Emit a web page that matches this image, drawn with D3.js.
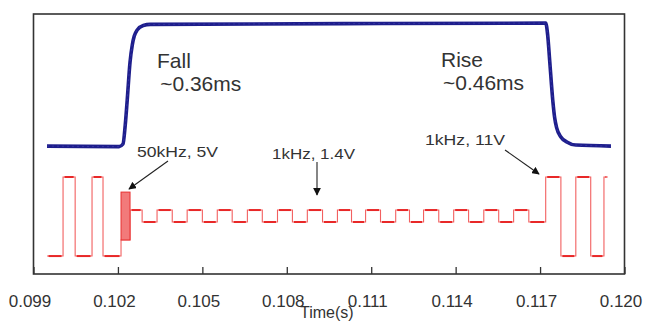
<!DOCTYPE html>
<html>
<head>
<meta charset="utf-8">
<script src="https://cdn.jsdelivr.net/npm/d3@7"></script>
<style>
  body { margin: 0; background: #fff; }
  text { font-family: "Liberation Sans", Arial, sans-serif; fill: #333; }
</style>
</head>
<body>
<svg id="chart" width="645" height="321"></svg>
<script>
// axis ticks (time in s)
var xTicks = [0.099, 0.102, 0.105, 0.108, 0.111, 0.114, 0.117, 0.120];

// optical response (blue), arbitrary units
var blueTime = [0.09948, 0.10204, 0.10218, 0.10226, 0.10233, 0.10243, 0.10251, 0.10258, 0.10268, 0.10290, 0.10315,
                0.11000, 0.11720, 0.11727, 0.11734, 0.11745, 0.11752, 0.11759, 0.11774, 0.11795, 0.11827, 0.11952];
var blueSignal = [49.2, 49.0, 50.0, 57.3, 66.9, 81.5, 88.1, 91.5, 93.8, 95.6, 96.0,
                  96.3, 96.5, 91.9, 82.3, 66.9, 60.0, 56.2, 52.7, 50.8, 49.6, 49.2];

// driving signal (red), level held from each time until the next
var redTime = [0.09948, 0.10005, 0.10048, 0.10108, 0.10147, 0.10211, 0.10243,
               0.10286, 0.10339, 0.10393, 0.10446, 0.10500, 0.10553, 0.10606, 0.10660,
               0.10713, 0.10767, 0.10820, 0.10873, 0.10927, 0.10980, 0.11030, 0.11080,
               0.11133, 0.11187, 0.11236, 0.11286, 0.11340, 0.11393, 0.11446, 0.11500,
               0.11553, 0.11606, 0.11660, 0.11720, 0.11774, 0.11827, 0.11880, 0.11927, 0.11941];
var redLevel = [6.9, 37.3, 6.9, 37.3, 6.9, 13.1, 24.6,
                20.0, 24.6, 20.0, 24.6, 20.0, 24.6, 20.0, 24.6,
                20.0, 24.6, 20.0, 24.6, 20.0, 24.6, 20.0, 24.6,
                20.0, 24.6, 20.0, 24.6, 20.0, 24.6, 20.0, 24.6,
                20.0, 24.6, 20.0, 37.3, 6.9, 37.3, 6.9, 37.3, 37.3];

// 50kHz burst envelope
var burstTime = [0.10211, 0.10243];
var burstLevel = [13.1, 31.5];

var svg = d3.select("#chart");
var plotLeft = 33.5, plotRight = 624.5, plotTop = 14, plotBottom = 274;

var x = d3.scaleLinear().domain([0.099, 0.120]).range([plotLeft, plotRight]);
var y = d3.scaleLinear().domain([0, 100]).range([plotBottom, plotTop]);

// frame
svg.append("rect")
    .attr("x", plotLeft).attr("y", plotTop)
    .attr("width", plotRight - plotLeft).attr("height", plotBottom - plotTop)
    .attr("fill", "none").attr("stroke", "#333").attr("stroke-width", 1.6);

// inner ticks + labels
var xAxis = d3.axisBottom(x).tickValues(xTicks).tickFormat(d3.format(".3f")).tickSizeInner(-7).tickSizeOuter(0);
var ax = svg.append("g").attr("transform", "translate(0," + plotBottom + ")").call(xAxis);
ax.select(".domain").remove();
ax.selectAll(".tick line").attr("stroke", "#333").attr("stroke-width", 1.3);
ax.selectAll(".tick text")
    .attr("y", 33).attr("dy", 0).attr("dx", -4)
    .style("font-family", "Liberation Sans, Arial, sans-serif")
    .style("font-size", "17px").attr("fill", "#333");

svg.append("text").attr("x", 300).attr("y", 318)
    .style("font-size", "16px").text("Time(s)");

// red trace
var redData = redTime.map(function(t, i) { return [t, redLevel[i]]; });
var stepLine = d3.line().x(d => x(d[0])).y(d => y(d[1])).curve(d3.curveStepAfter);
svg.append("path").datum(redData)
    .attr("d", stepLine)
    .attr("fill", "none").attr("stroke", "#f26060").attr("stroke-width", 1.1);

// thicker plateaus
var plateaus = redData.slice(0, -1).map(function(d, i) { return [d[0], redData[i + 1][0], d[1]]; })
    .filter(function(p) { return p[0] !== burstTime[0]; });
svg.append("g").selectAll("line").data(plateaus).enter().append("line")
    .attr("x1", d => x(d[0]) + 1.5).attr("x2", d => x(d[1]) - 1.5)
    .attr("y1", d => y(d[2])).attr("y2", d => y(d[2]))
    .attr("stroke", "#e82828").attr("stroke-width", 2);

// burst block
svg.append("rect")
    .attr("x", x(burstTime[0])).attr("y", y(burstLevel[1]))
    .attr("width", x(burstTime[1]) - x(burstTime[0]))
    .attr("height", y(burstLevel[0]) - y(burstLevel[1]))
    .attr("fill", "#f27a7a").attr("stroke", "#e83030").attr("stroke-width", 1);

// blue trace
var blueData = blueTime.map(function(t, i) { return [t, blueSignal[i]]; });
var line = d3.line().x(d => x(d[0])).y(d => y(d[1])).curve(d3.curveMonotoneX);
svg.append("path").datum(blueData)
    .attr("d", line)
    .attr("fill", "none").attr("stroke", "#1e1e8c").attr("stroke-width", 3.6)
    .attr("stroke-linejoin", "round");
svg.append("path").datum(blueData)
    .attr("d", line)
    .attr("fill", "none").attr("stroke", "#4040b0").attr("stroke-width", 1)
    .attr("stroke-dasharray", "2,3").attr("opacity", 0.6);

// rise / fall labels
function label(t, v, s) {
    svg.append("text").attr("x", x(t)).attr("y", y(v))
        .style("font-size", "21px").attr("fill", "#3a3a3a").text(s);
}
label(0.10339, 79.2, "Fall");
label(0.10350, 70.4, "~0.36ms");
label(0.11348, 79.6, "Rise");
label(0.11355, 70.8, "~0.46ms");

// arrows
var defs = svg.append("defs");
defs.append("marker").attr("id", "arrow")
    .attr("viewBox", "0 0 10 10").attr("refX", 9).attr("refY", 5)
    .attr("markerWidth", 7).attr("markerHeight", 7).attr("orient", "auto")
    .append("path").attr("d", "M0,0 L10,5 L0,10 z").attr("fill", "#111");

var notes = [
    { text: "50kHz, 5V", tx: 137, ty: 157, w: 81, from: [168, 161], to: [129, 189] },
    { text: "1kHz, 1.4V", tx: 272, ty: 159, w: 83, from: [317, 162], to: [317, 195] },
    { text: "1kHz, 11V", tx: 425, ty: 145, w: 80, from: [505, 150], to: [539, 174] }
];
notes.forEach(function(n) {
    svg.append("text").attr("x", n.tx).attr("y", n.ty)
        .style("font-size", "15px")
        .attr("textLength", n.w).attr("lengthAdjust", "spacingAndGlyphs")
        .text(n.text);
    svg.append("line")
        .attr("x1", n.from[0]).attr("y1", n.from[1])
        .attr("x2", n.to[0]).attr("y2", n.to[1])
        .attr("stroke", "#222").attr("stroke-width", 1.1)
        .attr("marker-end", "url(#arrow)");
});
</script>
</body>
</html>
